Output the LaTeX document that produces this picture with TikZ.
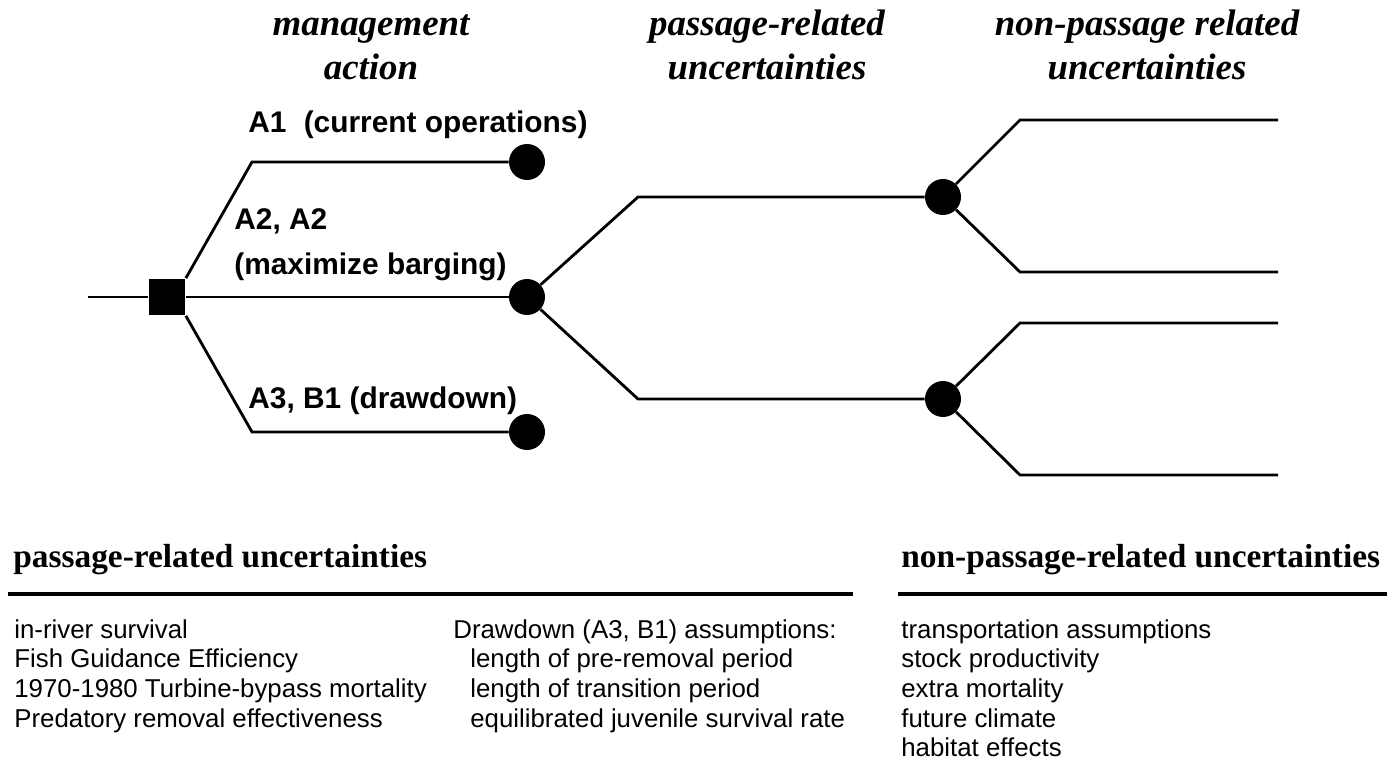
\documentclass[tikz,border=0pt]{standalone}
\usepackage{fontspec}
\setmainfont{Liberation Serif}
\setsansfont{Liberation Sans}
\usepackage{tikz}

\begin{document}
\begin{tikzpicture}[x=0.02cm, y=-0.02cm]
    \useasboundingbox (0, 0) rectangle (1395, 766);
    \tikzset{
        branch/.style={line width=1.6pt},
        decnode/.style={fill=black, minimum size=0.74cm, inner sep=0pt},
        chnode/.style={circle, fill=black, minimum size=0.72cm, inner sep=0pt},
        colhead/.style={align=center, anchor=base, inner sep=0pt,
            font=\fontsize{21}{25.6}\selectfont\bfseries\itshape},
        actlabel/.style={anchor=base west, inner sep=0pt,
            font=\sffamily\bfseries\fontsize{17}{20}\selectfont},
        sechead/.style={anchor=base west, inner sep=0pt,
            font=\fontsize{19}{22}\selectfont\bfseries},
        itemtext/.style={anchor=base west, inner sep=0pt,
            font=\sffamily\fontsize{14.7}{17}\selectfont}
    }
    % Decision square and chance dots
    \node [decnode] (dec) at (167, 297) {};
    \node [chnode] (a1) at (527, 162) {};
    \node [chnode] (a2) at (527, 297) {};
    \node [chnode] (a3) at (527, 432) {};
    \node [chnode] (p1) at (943, 197) {};
    \node [chnode] (p2) at (943, 399) {};
    % Bends and loose ends
    \coordinate (start) at (88, 297);
    \coordinate (a1k) at (252, 162);
    \coordinate (a3k) at (252, 432);
    \coordinate (p1k) at (638, 197);
    \coordinate (p2k) at (638, 399);
    \coordinate (n1k) at (1020, 120);
    \coordinate (n2k) at (1020, 272);
    \coordinate (n3k) at (1020, 323);
    \coordinate (n4k) at (1020, 475);
    \coordinate (n1) at (1278, 120);
    \coordinate (n2) at (1278, 272);
    \coordinate (n3) at (1278, 323);
    \coordinate (n4) at (1278, 475);
    % Management actions
    \draw [branch] (start) -- (dec);
    \draw [branch] (dec.north east) -- (a1k) -- (a1);
    \draw [branch] (dec) -- (a2);
    \draw [branch] (dec.south east) -- (a3k) -- (a3);
    % Passage-related branches
    \draw [branch] (a2) -- (p1k) -- (p1);
    \draw [branch] (a2) -- (p2k) -- (p2);
    % Non-passage branches
    \draw [branch] (p1) -- (n1k) -- (n1);
    \draw [branch] (p1) -- (n2k) -- (n2);
    \draw [branch] (p2) -- (n3k) -- (n3);
    \draw [branch] (p2) -- (n4k) -- (n4);
    % Column headings
    \node [colhead] (hact) at (371, 80) {management\\action};
    \node [colhead] (hpas) at (767, 80) {passage-related\\uncertainties};
    \node [colhead] (hnon) at (1147, 80) {non-passage related\\uncertainties};
    % Branch labels
    \node [actlabel] (la1) at (248, 133) {A1\hspace{0.3em} (current operations)};
    \node [actlabel] (la2) at (234, 230) {A2, A2};
    \node [actlabel] (la2b) at (234, 275) {(maximize barging)};
    \node [actlabel] (la3) at (248, 409) {A3, B1 (drawdown)};
    % Lists below
    \node [sechead] (spas) at (13, 567) {passage-related uncertainties};
    \node [sechead] (snon) at (901, 567) {non-passage-related uncertainties};
    \draw [line width=2pt] (8, 594) -- (853, 594);
    \draw [line width=2pt] (898, 594) -- (1387, 594);
    \foreach \txt [count=\i from 0] in {in-river survival, Fish Guidance Efficiency,
        1970-1980 Turbine-bypass mortality, Predatory removal effectiveness}
        \node [itemtext] (ip\i) at (14, 638 + 29.7*\i) {\txt};
    \node [itemtext] (dd) at (453, 638) {Drawdown (A3, B1) assumptions:};
    \foreach \txt [count=\i from 1] in {length of pre-removal period,
        length of transition period, equilibrated juvenile survival rate}
        \node [itemtext] (dd\i) at (470, 638 + 29.7*\i) {\txt};
    \foreach \txt [count=\i from 0] in {transportation assumptions, stock productivity,
        extra mortality, future climate, habitat effects}
        \node [itemtext] (in\i) at (901, 638 + 29.7*\i) {\txt};
\end{tikzpicture}
\end{document}
